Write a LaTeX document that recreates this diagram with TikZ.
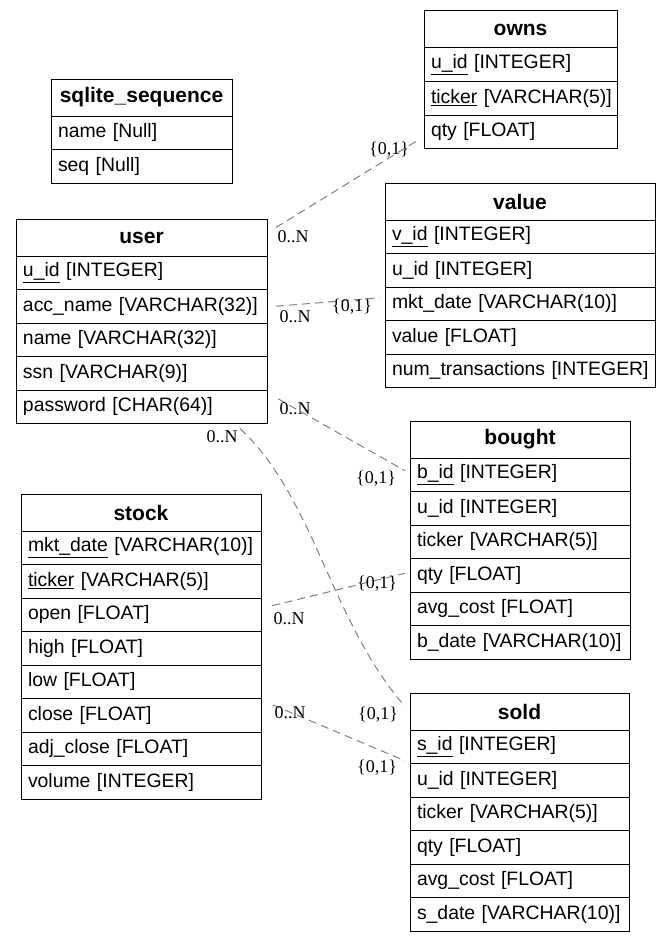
\documentclass[tikz,border=0pt]{standalone}
\usepackage{fontspec}
\setmainfont{Liberation Sans}
\newfontfamily\cardfont{Liberation Serif}
\usetikzlibrary{positioning,calc}

% one table: name, north west corner, width, title, fields
\newcommand{\erdtable}[5]{%
  \node[tabhead, minimum width=#3] (#1-0) at (#2) {#4};
  \foreach \f [count=\i, remember=\i as \j (initially 0)] in {#5}
    \node[tabrow, text width=#3-14pt, below=0pt of #1-\j] (#1-\i) {\mbox{\f}};
}

\begin{document}
\begin{tikzpicture}[
    x=1pt, y=-1pt,
    tabhead/.style={draw, line width=1pt, outer sep=0pt, anchor=north west, inner sep=0pt,
      minimum height=37pt, font=\fontsize{21}{25}\selectfont\bfseries},
    tabrow/.style={draw, line width=1pt, outer sep=0pt, inner xsep=7pt, inner ysep=0pt,
      minimum height=33.5pt, align=left, font=\fontsize{19.4}{23}\selectfont},
    link/.style={draw=gray, line width=1pt, dash pattern=on 8pt off 5pt},
    card/.style={inner sep=0pt, font=\cardfont\fontsize{18}{20}\selectfont}
]
\useasboundingbox (0,0) rectangle (671,942);

\erdtable{seq}{51,79}{181pt}{sqlite\_sequence}{name [Null], seq [Null]}
\erdtable{owns}{424,11}{193pt}{owns}{\underline{u\_id} [INTEGER], \underline{ticker} [VARCHAR(5)], qty [FLOAT]}
\erdtable{value}{385,183}{270pt}{value}{\underline{v\_id} [INTEGER], u\_id [INTEGER], mkt\_date [VARCHAR(10)], value [FLOAT], num\_transactions [INTEGER]}
\erdtable{user}{16,219}{251pt}{user}{\underline{u\_id} [INTEGER], acc\_name [VARCHAR(32)], name [VARCHAR(32)], ssn [VARCHAR(9)], password [CHAR(64)]}
\erdtable{bought}{410,421}{220pt}{bought}{\underline{b\_id} [INTEGER], u\_id [INTEGER], ticker [VARCHAR(5)], qty [FLOAT], avg\_cost [FLOAT], b\_date [VARCHAR(10)]}
\erdtable{stock}{21,494}{240pt}{stock}{\underline{mkt\_date} [VARCHAR(10)], \underline{ticker} [VARCHAR(5)], open [FLOAT], high [FLOAT], low [FLOAT], close [FLOAT], adj\_close [FLOAT], volume [INTEGER]}
\erdtable{sold}{410,693}{219pt}{sold}{\underline{s\_id} [INTEGER], u\_id [INTEGER], ticker [VARCHAR(5)], qty [FLOAT], avg\_cost [FLOAT], s\_date [VARCHAR(10)]}

% relations
\draw[link] ([shift={(9,-10)}]user-0.east) -- ([shift={(-7,9)}]owns-3.west);
\draw[link] ([xshift=9pt]user-2.east) -- ([shift={(-5,-6)}]value-3.west);
\draw[link] ([shift={(11,-8)}]user-5.east) -- ([shift={(-5,-4)}]bought-1.west);
\draw[link] ([shift={(-27,5)}]user-5.south east) .. controls +(75,70) and +(-75,-86) .. ([shift={(-5,-5)}]sold-0.west);
\draw[link] ([shift={(11,-9)}]stock-3.east) -- ([shift={(-5,-2)}]bought-4.west);
\draw[link] ([shift={(12,6.5)}]stock-6.north east) -- ([shift={(-5,14)}]sold-1.west);

% cardinalities
\node[card] (c1a) at (293,237) {0..N};
\node[card] (c1b) at (389,150) {\{0,1\}};
\node[card] (c2a) at (295,317) {0..N};
\node[card] (c2b) at (352,307) {\{0,1\}};
\node[card] (c3a) at (295,409) {0..N};
\node[card] (c3b) at (376,479) {\{0,1\}};
\node[card] (c4a) at (222,437) {0..N};
\node[card] (c4b) at (378,715) {\{0,1\}};
\node[card] (c5a) at (289,619) {0..N};
\node[card] (c5b) at (377,584) {\{0,1\}};
\node[card] (c6a) at (290,713) {0..N};
\node[card] (c6b) at (377,768) {\{0,1\}};
\end{tikzpicture}
\end{document}
